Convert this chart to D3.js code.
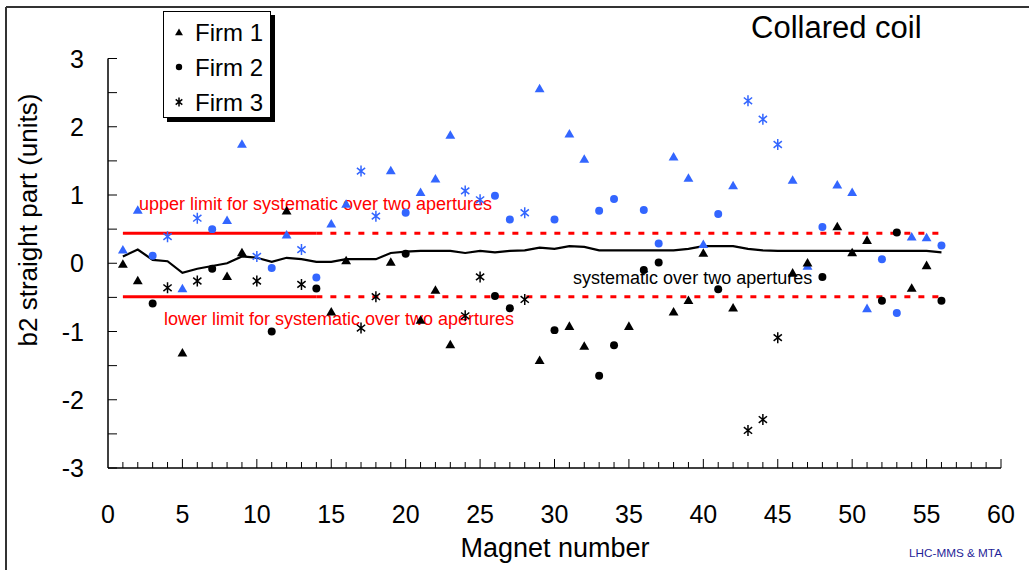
<!DOCTYPE html>
<html>
<head>
<meta charset="utf-8">
<script src="https://d3js.org/d3.v7.min.js"></script>
<style>
  body { margin: 0; background: #fff; }
  svg { font-family: "Liberation Sans", Arial, sans-serif; }
</style>
</head>
<body>
<script>

// firm of each magnet (magnet number = index + 1)
var firm = [1,1,2,3,1,3,2,1,1,3, 2,1,3,2,1,1,3,3,1,2, 1,1,1,3,3,2,2,3,1,2,
            1,1,2,2,1,2,2,1,1,1, 2,1,3,3,3,1,1,2,1,1, 1,2,2,1,1,2];

// b2 per aperture (blue = aperture 1, black = aperture 2)
var blue = [0.20,0.78,0.11,0.39,-0.37,0.66,0.50,0.63,1.75,0.10,
            -0.07,0.42,0.20,-0.21,0.58,0.87,1.35,0.69,1.36,0.74,
            1.04,1.24,1.88,1.06,0.93,0.99,0.64,0.74,2.56,0.64,
            1.90,1.53,0.77,0.94,null,0.78,0.29,1.56,1.25,0.28,
            0.72,1.14,2.38,2.11,1.74,1.22,-0.04,0.53,1.15,1.04,
            -0.66,0.06,-0.73,0.39,0.38,0.26];
var black = [-0.01,-0.25,-0.59,-0.36,-1.31,-0.26,-0.08,-0.19,0.16,-0.26,
             -1.00,0.77,-0.31,-0.37,-0.71,0.04,-0.95,-0.49,0.02,0.14,
             -0.83,-0.39,-1.19,-0.77,-0.20,-0.48,-0.66,-0.53,-1.42,-0.98,
             -0.92,-1.21,-1.65,-1.20,-0.92,-0.10,0.01,-0.71,-0.54,0.15,
             -0.38,-0.65,-2.45,-2.29,-1.09,-0.14,0.01,-0.20,0.54,0.16,
             0.34,-0.55,0.45,-0.36,-0.03,-0.55];

// systematic over two apertures
var systematic = [0.10,0.20,0.05,0.03,-0.14,-0.08,-0.04,0.00,0.10,0.08,
                  0.02,0.08,0.06,0.02,0.02,0.06,0.06,0.06,0.15,0.17,
                  0.18,0.18,0.18,0.15,0.18,0.16,0.18,0.19,0.23,0.21,
                  0.25,0.24,0.19,0.19,0.19,0.19,0.19,0.19,0.21,0.25,
                  0.25,0.25,0.21,0.19,0.18,0.18,0.18,0.18,0.18,0.18,
                  0.18,0.18,0.18,0.18,0.18,0.16];

var upperLimit = 0.44, lowerLimit = -0.49;
var limitSolidEnd = 14, limitEnd = 56;

var xTicks = [0,5,10,15,20,25,30,35,40,45,50,55,60];
var yTicks = [-3,-2,-1,0,1,2,3];
var firms = ["Firm 1", "Firm 2", "Firm 3"];

var width = 1029, height = 570;
var blueColor = "#3366ff";

var svg = d3.select("body").append("svg")
    .attr("width", width)
    .attr("height", height);

// frame (only top and left edges are visible in the picture)
svg.append("line").attr("x1", 6).attr("x2", width).attr("y1", 7).attr("y2", 7)
    .attr("stroke", "#333").attr("stroke-width", 2);
svg.append("line").attr("x1", 6).attr("x2", 6).attr("y1", 7).attr("y2", height)
    .attr("stroke", "#333").attr("stroke-width", 2);

var x = d3.scaleLinear().domain([0, 60]).range([108, 1001]);
var y = d3.scaleLinear().domain([-3, 3]).range([468, 58.5]);

// x axis: minor ticks every magnet, inside
var xAxis = svg.append("g")
    .attr("transform", "translate(0," + y(-3) + ")");
xAxis.append("line").attr("x1", x(0)).attr("x2", x(60)).attr("stroke", "#000").attr("stroke-width", 1.5);
xAxis.selectAll(".minor").data(d3.range(1, 61)).enter().append("line")
    .attr("x1", function(d) { return x(d); })
    .attr("x2", function(d) { return x(d); })
    .attr("y1", 0)
    .attr("y2", function(d) { return d % 5 === 0 ? -9 : -6; })
    .attr("stroke", "#000").attr("stroke-width", 1);
xAxis.selectAll(".lbl").data(xTicks).enter().append("text")
    .attr("x", function(d) { return x(d); })
    .attr("y", 55)
    .attr("text-anchor", "middle")
    .style("font-size", "25px")
    .text(function(d) { return d; });

// y axis: ticks every 0.5, inside
var yAxis = svg.append("g")
    .attr("transform", "translate(" + x(0) + ",0)");
yAxis.append("line").attr("y1", y(-3)).attr("y2", y(3)).attr("stroke", "#000").attr("stroke-width", 1.5);
yAxis.selectAll(".tick").data(y.ticks(12)).enter().append("line")
    .attr("y1", function(d) { return y(d); })
    .attr("y2", function(d) { return y(d); })
    .attr("x1", 0).attr("x2", 9)
    .attr("stroke", "#000").attr("stroke-width", 1);
yAxis.selectAll(".lbl").data(yTicks).enter().append("text")
    .attr("x", -24)
    .attr("y", function(d) { return y(d); })
    .attr("dy", "0.36em")
    .attr("text-anchor", "end")
    .style("font-size", "25px")
    .text(function(d) { return d; });

// axis titles
svg.append("text")
    .attr("x", 555).attr("y", 557)
    .attr("text-anchor", "middle")
    .style("font-size", "27px")
    .text("Magnet number");
svg.append("text")
    .attr("transform", "translate(37,220) rotate(-90)")
    .attr("text-anchor", "middle")
    .style("font-size", "26px")
    .text("b2 straight part (units)");

// limits
[upperLimit, lowerLimit].forEach(function(v) {
  svg.append("line")
      .attr("x1", x(1)).attr("x2", x(limitSolidEnd))
      .attr("y1", y(v)).attr("y2", y(v))
      .attr("stroke", "#ff0000").attr("stroke-width", 3);
  svg.append("line")
      .attr("x1", x(limitSolidEnd)).attr("x2", x(limitEnd))
      .attr("y1", y(v)).attr("y2", y(v))
      .attr("stroke", "#ff0000").attr("stroke-width", 3)
      .attr("stroke-dasharray", "6,8");
});

svg.append("text")
    .attr("x", x(2.08)).attr("y", y(0.78))
    .attr("fill", "#ff0000")
    .style("font-size", "18px")
    .text("upper limit for systematic over two apertures");
svg.append("text")
    .attr("x", x(3.76)).attr("y", y(-0.91))
    .attr("fill", "#ff0000")
    .style("font-size", "18px")
    .text("lower limit for systematic over two apertures");

// systematic line
var line = d3.line()
    .x(function(d, i) { return x(i + 1); })
    .y(function(d) { return y(d); });
svg.append("path")
    .datum(systematic)
    .attr("d", line)
    .attr("fill", "none")
    .attr("stroke", "#000")
    .attr("stroke-width", 2.2);

svg.append("text")
    .attr("x", x(31.25)).attr("y", y(-0.30))
    .style("font-size", "18px")
    .text("systematic over two apertures");

// markers
function starPath(r) {
  // x cross plus a vertical bar
  var d = r * 0.75;
  return "M0," + (-r) + "L0," + r +
         "M" + (-d) + "," + (-d * 0.8) + "L" + d + "," + (d * 0.8) +
         "M" + (-d) + "," + (d * 0.8) + "L" + d + "," + (-d * 0.8);
}

function drawMarker(g, f, color, scale) {
  if (f === 3) {
    g.append("path").attr("d", starPath(5.5 * scale))
        .attr("fill", "none").attr("stroke", color).attr("stroke-width", 1.5);
  } else if (f === 1) {
    g.append("path").attr("d", d3.symbol().type(d3.symbolTriangle).size(42 * scale * scale)())
        .attr("transform", "translate(0,1)")
        .attr("fill", color);
  } else {
    g.append("path").attr("d", d3.symbol().type(d3.symbolCircle).size(50 * scale * scale)())
        .attr("fill", color);
  }
}

var points = [];
firm.forEach(function(f, i) {
  if (blue[i] !== null) points.push({ m: i + 1, v: blue[i], f: f, c: blueColor });
});
firm.forEach(function(f, i) {
  if (black[i] !== null) points.push({ m: i + 1, v: black[i], f: f, c: "#000" });
});

svg.selectAll(".pt").data(points).enter().append("g")
    .attr("class", "pt")
    .attr("transform", function(d) { return "translate(" + x(d.m) + "," + y(d.v) + ")"; })
    .each(function(d) { drawMarker(d3.select(this), d.f, d.c, 1); });

// legend
var legend = svg.append("g");
legend.append("rect").attr("x", 167).attr("y", 15).attr("width", 108).attr("height", 107).attr("fill", "#000");
legend.append("rect").attr("x", 163.5).attr("y", 11.5).attr("width", 107).attr("height", 106)
    .attr("fill", "#fff").attr("stroke", "#000").attr("stroke-width", 1);
firms.forEach(function(name, i) {
  var row = legend.append("g").attr("transform", "translate(179," + (32 + i * 35) + ")");
  drawMarker(row, i + 1, "#000", 0.8);
  row.append("text")
      .attr("x", 16).attr("dy", "0.36em")
      .style("font-size", "24px")
      .text(name);
});

// title
svg.append("text")
    .attr("x", 751).attr("y", 38)
    .style("font-size", "31px")
    .text("Collared coil");

svg.append("text")
    .attr("x", 909).attr("y", 557)
    .attr("fill", "#1f1f99")
    .attr("textLength", 93)
    .attr("lengthAdjust", "spacingAndGlyphs")
    .style("font-size", "11px")
    .text("LHC-MMS & MTA");

</script>
</body>
</html>
